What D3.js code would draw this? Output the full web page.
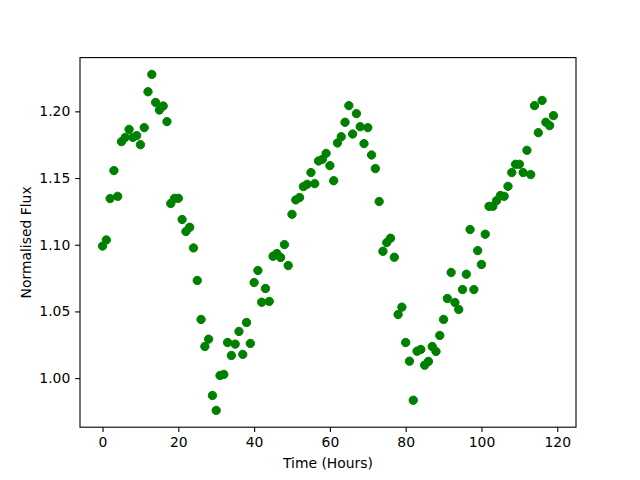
<!DOCTYPE html>
<html>
<head>
<meta charset="utf-8">
<script src="https://cdn.jsdelivr.net/npm/d3@7"></script>
<style>
  html, body { margin: 0; padding: 0; background: #fff; }
  svg { display: block; }
  text { font-family: "DejaVu Sans", sans-serif; }
</style>
</head>
<body>
<svg id="chart" width="640" height="480"></svg>
<script>
// Time in hours (0..119)
const hours = d3.range(0, 120);
// Normalised flux values
const flux = [
  1.099, 1.1036, 1.1346, 1.1556, 1.1363, 1.1773, 1.1805, 1.1865, 1.1805, 1.1818,
  1.175, 1.1878, 1.2147, 1.2277, 1.2067, 1.201, 1.204, 1.1923, 1.1309, 1.1348,
  1.1348, 1.1189, 1.1099, 1.1131, 1.0976, 1.0732, 1.044, 1.0237, 1.0292, 0.987,
  0.9758, 1.002, 1.0028, 1.0267, 1.017, 1.0255, 1.035, 1.0178, 1.0417, 1.026,
  1.0717, 1.0807, 1.0569, 1.0672, 1.0575, 1.0914, 1.0934, 1.0904, 1.1001, 1.0844,
  1.1228, 1.1336, 1.1354, 1.1436, 1.1453, 1.1541, 1.1458, 1.1628, 1.164, 1.1685,
  1.1593, 1.148, 1.1763, 1.181, 1.1918, 1.2043, 1.183, 1.1983, 1.1885, 1.1758,
  1.1878, 1.1673, 1.1571, 1.1324, 1.0951, 1.1016, 1.1049, 1.0906, 1.0477, 1.0532,
  1.0267, 1.0127, 0.9834, 1.0202, 1.0215, 1.0097, 1.0125, 1.0237, 1.02, 1.032,
  1.044, 1.0597, 1.0792, 1.0567, 1.0515, 1.0664, 1.0779, 1.1114, 1.0664, 1.0956,
  1.0852, 1.1079, 1.1288, 1.1288, 1.1331, 1.1369, 1.1363, 1.1438, 1.1541, 1.1603,
  1.1603, 1.1541, 1.1708, 1.1526, 1.2043, 1.184, 1.2082, 1.1918, 1.1893, 1.1968
];
const xTicks = [0, 20, 40, 60, 80, 100, 120];
const yTicks = [1.00, 1.05, 1.10, 1.15, 1.20];
const xLabel = "Time (Hours)";
const yLabel = "Normalised Flux";

const data = hours.map((h, i) => ({ t: h, f: flux[i] }));

const W = 640, H = 480;
const margin = { left: 80, right: 64, top: 57.6, bottom: 52.8 };
const iw = W - margin.left - margin.right;
const ih = H - margin.top - margin.bottom;

function padded(ext) {
  const s = ext[1] - ext[0];
  return [ext[0] - 0.05 * s, ext[1] + 0.05 * s];
}

const x = d3.scaleLinear().domain(padded(d3.extent(hours))).range([0, iw]);
const y = d3.scaleLinear().domain(padded(d3.extent(flux))).range([ih, 0]);

const svg = d3.select("#chart");
const g = svg.append("g").attr("transform", `translate(${margin.left},${margin.top})`);

const fontPx = 13.9;
const tickLen = 4.86;
const tickPad = 4.86;

// X axis
const xAxis = d3.axisBottom(x).tickValues(xTicks).tickFormat(d3.format("d"))
  .tickSizeInner(tickLen).tickSizeOuter(0).tickPadding(tickPad);
const gx = g.append("g").attr("transform", `translate(0,${ih})`).call(xAxis);
gx.select(".domain").remove();
gx.selectAll(".tick line").attr("stroke", "#000").attr("stroke-width", 1.1);
gx.selectAll(".tick text").attr("font-size", fontPx).attr("fill", "#000")
  .attr("font-family", "DejaVu Sans, sans-serif");

// Y axis
const yAxis = d3.axisLeft(y).tickValues(yTicks).tickFormat(d3.format(".2f"))
  .tickSizeInner(tickLen).tickSizeOuter(0).tickPadding(tickPad);
const gy = g.append("g").call(yAxis);
gy.select(".domain").remove();
gy.selectAll(".tick line").attr("stroke", "#000").attr("stroke-width", 1.1);
gy.selectAll(".tick text").attr("font-size", fontPx).attr("fill", "#000")
  .attr("font-family", "DejaVu Sans, sans-serif");

// Points
g.append("g").selectAll("circle").data(data).join("circle")
  .attr("cx", d => x(d.t))
  .attr("cy", d => y(d.f))
  .attr("r", 4.17)
  .attr("fill", "#008000")
  .attr("stroke", "#008000")
  .attr("stroke-width", 1.0);

// Frame (spines)
g.append("rect").attr("x", 0).attr("y", 0).attr("width", iw).attr("height", ih)
  .attr("fill", "none").attr("stroke", "#000").attr("stroke-width", 1.1);

// Axis labels
svg.append("text")
  .attr("x", margin.left + iw / 2)
  .attr("y", 468)
  .attr("text-anchor", "middle")
  .attr("font-size", fontPx)
  .attr("fill", "#000")
  .text(xLabel);

svg.append("text")
  .attr("transform", `translate(31,${margin.top + ih / 2}) rotate(-90)`)
  .attr("text-anchor", "middle")
  .attr("font-size", fontPx)
  .attr("fill", "#000")
  .text(yLabel);
</script>
</body>
</html>
